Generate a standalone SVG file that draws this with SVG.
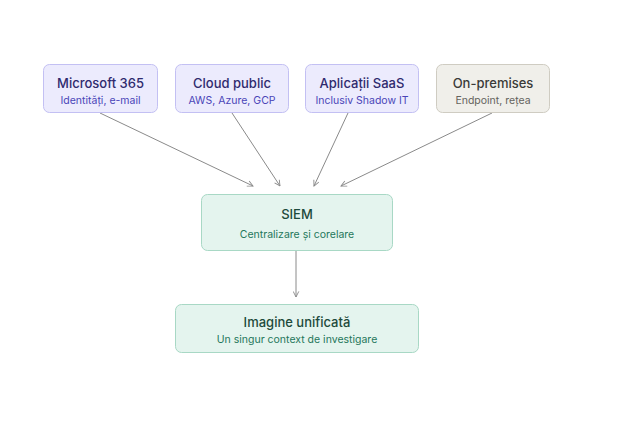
<svg xmlns="http://www.w3.org/2000/svg" width="624" height="431" viewBox="0 0 624 431">
<style>
.t{font-family:Inter,"Liberation Sans",sans-serif;text-anchor:middle}
.h{font-size:13px;font-weight:500}
.s{font-size:10.5px}
.p rect{fill:#ecebfd;stroke:#c3c0f3}
.p .h{fill:#2f2a6e}.p .s{fill:#4a45b8}
.g rect{fill:#f0efea;stroke:#cfccc2}
.g .h{fill:#3a3a38}.g .s{fill:#65635d}
.m rect{fill:#e4f4ee;stroke:#a8d8c5}
.m .h{fill:#1d4a3b}.m .s{fill:#24775b}
.c line{stroke:#8a8a8a;stroke-width:1;marker-end:url(#a)}
</style>
<defs><marker id="a" viewBox="0 0 10 10" refX="9" refY="5" markerWidth="7" markerHeight="7" orient="auto"><path d="M1 1L9 5L1 9" fill="none" stroke="#8a8a8a" stroke-width="1.3"/></marker></defs>
<rect width="624" height="431" fill="#fff"/>
<g class="c">
<line x1="100" y1="113" x2="253" y2="186"/>
<line x1="232" y1="113" x2="280" y2="186"/>
<line x1="348" y1="113" x2="314" y2="186"/>
<line x1="492" y1="113" x2="341" y2="186"/>
<line x1="296" y1="251" x2="296" y2="297"/>
</g>
<g id="m365" class="p"><rect x="43.5" y="64.5" width="114" height="48" rx="6"/><text class="t h" x="100.5" y="88">Microsoft 365</text><text class="t s" x="100.5" y="104">Identități, e-mail</text></g>
<g id="cloud" class="p"><rect x="175.5" y="64.5" width="113" height="48" rx="6"/><text class="t h" x="232" y="88">Cloud public</text><text class="t s" x="232" y="104">AWS, Azure, GCP</text></g>
<g id="saas" class="p"><rect x="305.5" y="64.5" width="113" height="48" rx="6"/><text class="t h" x="362" y="88">Aplicații SaaS</text><text class="t s" x="362" y="104">Inclusiv Shadow IT</text></g>
<g id="onprem" class="g"><rect x="436.5" y="64.5" width="113" height="48" rx="6"/><text class="t h" x="493" y="88">On-premises</text><text class="t s" x="493" y="104">Endpoint, rețea</text></g>
<g id="siem" class="m"><rect x="201.5" y="194.5" width="191" height="56" rx="6"/><text class="t h" x="297" y="219">SIEM</text><text class="t s" x="297" y="238">Centralizare și corelare</text></g>
<g id="img" class="m"><rect x="175.5" y="304.5" width="243" height="48" rx="6"/><text class="t h" x="297" y="327">Imagine unificată</text><text class="t s" x="297" y="343">Un singur context de investigare</text></g>
</svg>
